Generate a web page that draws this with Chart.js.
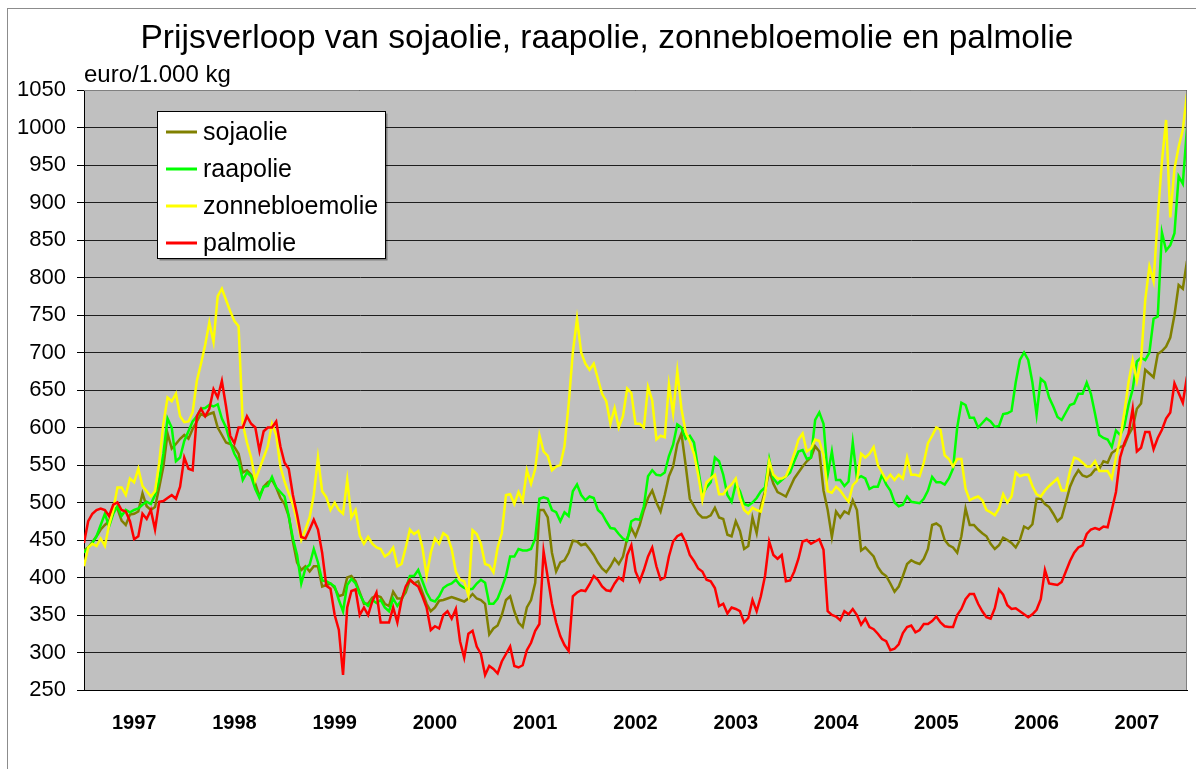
<!DOCTYPE html>
<html>
<head>
<meta charset="utf-8">
<title>Prijsverloop plantaardige oliën</title>
<script src="https://cdn.jsdelivr.net/npm/chart.js@4.4.1/dist/chart.umd.min.js"></script>
<style>
  html, body { margin: 0; padding: 0; background: #fff; }
  canvas { display: block; }
</style>
</head>
<body>
<canvas id="chart" width="1196" height="769"></canvas>
<script>
// half-monthly readings, Jan 1997 - Dec 2007, euro per 1.000 kg
const years = [1997, 1998, 1999, 2000, 2001, 2002, 2003, 2004, 2005, 2006, 2007];
const pointsPerYear = 24;

const soja = [
  436, 440, 447, 455, 464, 470, 475, 492, 492, 476,
  470, 484, 485, 488, 512, 495, 490, 494, 520, 548,
  592, 572, 578, 585, 590, 585, 598, 608, 618, 615,
  618, 620, 600, 590, 580, 578, 574, 565, 540, 543,
  537, 525, 508, 521, 527, 530, 520, 506, 498, 482,
  448, 420, 410, 415, 408, 415, 415, 388, 390, 392,
  386, 375, 377, 400, 402, 395, 380, 365, 365, 373,
  376, 374, 365, 362, 381, 372, 372, 380, 397, 392,
  395, 380, 365, 355, 360, 369, 370, 372, 374, 372,
  370, 368, 372, 378, 372, 370, 365, 324, 332, 336,
  350, 370, 375, 355, 340, 334, 360, 370, 393, 490,
  490, 480, 433, 408, 420, 423, 433, 449, 448, 443,
  445, 438, 430, 420, 412, 407, 415, 425, 418, 428,
  452, 466, 455, 470, 490, 506, 516, 500, 488, 510,
  535, 548, 578, 592, 550, 505, 495, 485, 480, 480,
  483, 493, 480, 478, 457, 455, 475, 462, 438, 442,
  480, 459, 495, 515, 543, 525, 514, 511, 508, 520,
  532, 540, 548, 555, 560, 575, 568, 516, 490, 454,
  488, 480, 488, 485, 503, 490, 436, 440, 434, 428,
  414, 406, 402, 392, 381, 388, 402, 418, 423, 420,
  418, 425, 438, 470, 472, 468, 450, 443, 440, 433,
  455, 492, 470, 470, 464, 459, 455, 445, 438, 443,
  453, 450, 446, 440, 450, 468, 465, 471, 505, 505,
  498, 494, 485, 475, 480, 500, 521, 534, 543, 536,
  534, 537, 544, 545, 555, 553, 566, 570, 574, 576,
  590, 600, 625, 632, 677, 672, 667, 698, 702, 708,
  720, 750, 790, 785, 822
];

const raap = [
  433, 440, 446, 455, 470, 485, 468, 485, 495, 482,
  490, 487, 490, 492, 497, 501, 498, 510, 530, 565,
  612, 600, 555, 560, 582, 595, 608, 615, 625, 626,
  630, 628, 631, 612, 600, 580, 565, 555, 530, 540,
  535, 518, 506, 521, 522, 534, 520, 514, 508, 482,
  452, 430, 392, 412, 417, 438, 420, 396, 395, 392,
  388, 370, 355, 390, 398, 392, 378, 367, 362, 370,
  366, 370, 360, 355, 372, 362, 370, 385, 402, 402,
  410, 395, 380, 370, 368, 375, 386, 390, 392, 397,
  390, 386, 384, 385, 392, 397, 393, 365, 365, 372,
  386, 402, 428, 428, 438, 436, 436, 438, 452, 505,
  507, 505, 490, 487, 475, 487, 482, 515, 524, 510,
  503, 508, 506, 490, 485, 475, 466, 465, 458, 452,
  449, 475, 478, 477, 495, 535, 543, 537, 536, 540,
  562, 577, 604, 600, 585, 589, 580, 545, 510, 520,
  527, 560, 555, 537, 510, 501, 525, 515, 498, 496,
  500, 506, 515, 520, 558, 532, 525, 530, 535, 540,
  555, 568, 570, 558, 560, 610, 620, 605, 537, 568,
  530, 530, 522, 528, 580, 532, 535, 532, 518, 521,
  521, 537, 524, 516, 500, 495, 497, 508, 501, 500,
  499, 505, 516, 534, 527, 527, 524, 532, 545, 600,
  633, 630, 613, 613, 600, 606, 612, 608, 601, 602,
  618, 619, 622, 660, 690, 700, 690, 660, 617, 665,
  660, 640, 628, 614, 610, 620, 630, 632, 645, 645,
  660, 645, 618, 590, 586, 584, 574, 596, 590, 602,
  630, 651, 688, 693, 690, 700, 745, 748, 860, 836,
  843, 859, 935, 925, 1000
];

const zonnebloem = [
  415, 440, 445, 442, 452, 442, 470, 490, 520, 520,
  510, 532, 527, 545, 522, 515, 508, 515, 553, 605,
  640, 635, 645, 615, 607, 608, 620, 662, 685, 710,
  740, 714, 775, 785, 770, 755, 742, 735, 605, 580,
  560, 530, 545, 560, 575, 605, 590, 548, 528, 512,
  497, 475, 450, 464, 480, 510, 560, 515, 507, 490,
  500, 490, 485, 530, 480, 490, 456, 445, 454, 445,
  440, 438, 428, 432, 440, 415, 418, 440, 464, 458,
  462, 440, 402, 433, 452, 445, 459, 455, 438, 408,
  397, 395, 376, 463, 458, 445, 418, 416, 407, 440,
  459, 510, 511, 498, 514, 502, 543, 525, 545, 590,
  568, 562, 543, 548, 550, 575, 631, 700, 745, 700,
  685, 677, 685, 665, 645, 635, 605, 626, 600, 615,
  652, 646, 605, 605, 600, 654, 636, 584, 589, 587,
  657, 619, 675, 625, 594, 581, 565, 537, 503, 527,
  532, 537, 511, 511, 519, 524, 532, 506, 490, 485,
  493, 490, 488, 511, 555, 537, 532, 532, 535, 548,
  565, 584, 592, 568, 572, 584, 582, 563, 515, 513,
  521, 516, 508, 501, 523, 529, 565, 560, 565, 574,
  550, 540, 530, 537, 530, 537, 532, 560, 537, 537,
  535, 553, 579, 589, 600, 597, 563, 558, 548, 558,
  558, 518, 503, 506, 508, 503, 490, 487, 483, 492,
  511, 500, 508, 540, 535, 537, 537, 522, 511, 508,
  516, 522, 527, 532, 516, 516, 542, 560, 558, 553,
  548, 548, 555, 542, 542, 542, 532, 560, 585, 620,
  660, 690, 662, 690, 770, 815, 795, 880, 955, 1010,
  880, 945, 974, 997, 1045
];

const palm = [
  446, 475, 485, 490, 492, 490, 482, 497, 500, 490,
  488, 475, 451, 455, 485, 478, 490, 464, 501, 502,
  506, 510, 505, 521, 560, 545, 543, 615, 625, 615,
  625, 651, 640, 662, 628, 589, 579, 600, 600, 615,
  605, 600, 569, 595, 600, 600, 608, 575, 553, 545,
  510, 484, 454, 452, 464, 477, 464, 433, 389, 385,
  350, 330, 270, 360, 382, 384, 350, 360, 350, 368,
  380, 340, 340, 340, 360, 340, 370, 388, 397, 392,
  388, 375, 360, 330, 335, 332, 350, 355, 345, 358,
  315, 293, 325, 329, 308, 298, 270, 282, 278, 272,
  288, 298, 308, 282, 280, 283, 303, 313, 329, 338,
  435, 400, 365, 340, 322, 310, 302, 375, 380, 383,
  382, 391, 402, 397, 388, 383, 382, 392, 400, 396,
  430, 443, 408, 395, 410, 428, 440, 415, 397, 400,
  428, 448, 455, 458, 447, 430, 422, 412, 408, 397,
  395, 386, 362, 365, 352, 360, 358, 355, 340, 346,
  370, 355, 375, 402, 448, 430, 425, 430, 395, 396,
  408, 425, 448, 450, 445, 448, 451, 437, 355, 350,
  348, 343, 355, 351, 358, 350, 337, 345, 334, 331,
  325, 318, 315, 303, 305, 311, 326, 334, 336, 327,
  330, 338, 338, 342, 348, 340, 335, 334, 334, 350,
  358, 371, 378, 378, 365, 355, 347, 345, 359, 384,
  377, 363, 358, 359, 355, 351, 347, 351, 357, 371,
  410, 392, 391, 390, 394, 408, 422, 433, 440, 443,
  458, 464, 466, 464, 468, 467, 490, 514, 560, 579,
  592, 625, 568, 573, 594, 594, 571, 586, 597, 612,
  620, 659, 646, 633, 668
];

const seriesNames = ["sojaolie", "raapolie", "zonnebloemolie", "palmolie"];
const seriesColors = ["#808000", "#00ff00", "#ffff00", "#ff0000"];
const seriesData = [soja, raap, zonnebloem, palm];

// x position of every reading, in fractional years
const weeks = soja.map((_, i) => years[0] + i / pointsPerYear);

const fontFamily = '"Liberation Sans", Arial, sans-serif';
Chart.defaults.font.family = fontFamily;
Chart.defaults.color = "#000";

// white page, thin frame, grey plot area
const plotBackground = {
  id: "plotBackground",
  beforeDraw(chart) {
    const { ctx, chartArea: a } = chart;
    ctx.save();
    ctx.fillStyle = "#fff";
    ctx.fillRect(0, 0, chart.width, chart.height);
    ctx.strokeStyle = "#8c8c8c";
    ctx.lineWidth = 1;
    ctx.strokeRect(7.5, 8.5, chart.width + 20, chart.height + 20);
    ctx.fillStyle = "#c0c0c0";
    ctx.fillRect(a.left, a.top, a.right - a.left, a.bottom - a.top);
    ctx.restore();
  }
};

// title, unit and the boxed legend inside the plot
const annotations = {
  id: "annotations",
  afterDraw(chart) {
    const { ctx, chartArea: a } = chart;
    ctx.save();

    ctx.strokeStyle = "#808080";
    ctx.lineWidth = 1;
    ctx.beginPath();
    ctx.moveTo(a.left, a.top + 0.5);
    ctx.lineTo(a.right - 0.5, a.top + 0.5);
    ctx.lineTo(a.right - 0.5, a.bottom);
    ctx.stroke();

    ctx.fillStyle = "#000";
    ctx.textAlign = "center";
    ctx.textBaseline = "alphabetic";
    ctx.font = "33.5px " + fontFamily;
    ctx.fillText("Prijsverloop van sojaolie, raapolie, zonnebloemolie en palmolie", 607, 48);

    ctx.textAlign = "left";
    ctx.font = "24px " + fontFamily;
    ctx.fillText("euro/1.000 kg", 84, 82);

    const box = { x: 157.5, y: 111.5, w: 228, h: 147 };
    ctx.fillStyle = "rgba(0,0,0,0.35)";
    ctx.fillRect(box.x + 2, box.y + 2, box.w, box.h);
    ctx.fillStyle = "#fff";
    ctx.fillRect(box.x, box.y, box.w, box.h);
    ctx.strokeStyle = "#000";
    ctx.strokeRect(box.x, box.y, box.w, box.h);

    ctx.font = "25px " + fontFamily;
    ctx.textBaseline = "middle";
    chart.data.datasets.forEach((ds, k) => {
      const y = 132 + k * 37;
      ctx.strokeStyle = ds.borderColor;
      ctx.lineWidth = 3;
      ctx.beginPath();
      ctx.moveTo(166, y);
      ctx.lineTo(197, y);
      ctx.stroke();
      ctx.fillStyle = "#000";
      ctx.fillText(ds.label, 203, y + 1);
    });

    ctx.restore();
  }
};

function buildDatasets() {
  return seriesNames.map((name, k) => ({
    label: name,
    data: seriesData[k],
    borderColor: seriesColors[k],
    backgroundColor: seriesColors[k],
    borderWidth: 2.5,
    pointRadius: 0,
    tension: 0,
    order: seriesNames.length - 1 - k
  }));
}

new Chart(document.getElementById("chart"), {
  type: "line",
  data: { labels: weeks, datasets: buildDatasets() },
  options: {
    responsive: false,
    animation: false,
    devicePixelRatio: 1,
    layout: { padding: { top: 90, right: 9, left: 0, bottom: 0 } },
    plugins: {
      legend: { display: false },
      title: { display: false },
      tooltip: { enabled: false }
    },
    scales: {
      x: {
        type: "linear",
        min: years[0],
        max: years[years.length - 1] + 1,
        grid: { display: false, drawTicks: false },
        border: { display: true, color: "#000", width: 1 },
        afterBuildTicks: axis => { axis.ticks = years.map(y => ({ value: y + 0.5 })); },
        afterFit: axis => { axis.height = 79; },
        ticks: {
          autoSkip: false,
          maxRotation: 0,
          padding: 21,
          color: "#000",
          font: { size: 20, weight: "bold" },
          callback: (v, i) => String(years[i])
        }
      },
      y: {
        min: 250,
        max: 1050,
        afterFit: axis => { axis.width = 84; },
        grid: { color: "#1e1e1e", lineWidth: 1, tickLength: 7, tickColor: "#000" },
        border: { display: true, color: "#000", width: 1 },
        ticks: { stepSize: 50, padding: 11, color: "#000", font: { size: 22 }, callback: v => String(v) }
      }
    }
  },
  plugins: [plotBackground, annotations]
});
</script>
</body>
</html>
